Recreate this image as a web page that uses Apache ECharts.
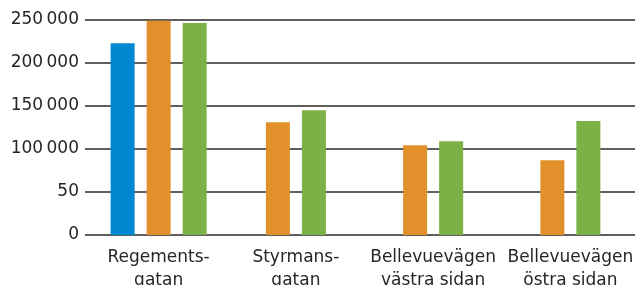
<!DOCTYPE html>
<html>
<head>
<meta charset="utf-8">
<script src="https://cdn.jsdelivr.net/npm/echarts@6/dist/echarts.min.js"></script>
<style>
  html, body { margin: 0; padding: 0; background: #fff; }
  #chart { width: 635px; height: 285px; }
</style>
</head>
<body>
<div id="chart"></div>
<script>
const categories = ['Regements-\ngatan', 'Styrmans-\ngatan', 'Bellevuevägen\nvästra sidan', 'Bellevuevägen\nöstra sidan']
const blueValues = [223000, null, null, null]
const orangeValues = [249000, 131000, 104500, 87000]
const greenValues = [246500, 145000, 109000, 132500]
const yTickLabels = ['0', '50', '100\u2009000', '150\u2009000', '200\u2009000', '250\u2009000']

const colors = { blue: '#0089d1', orange: '#e2902b', green: '#7bb146' }
const textColor = '#262626'
const fontFamily = 'DejaVu Sans'

// categories that have a blue bar get a 3-bar group, the rest a 2-bar group (both centered)
const hasBlue = blueValues.map(v => v != null)
const mask = (values, keep) => values.map((v, i) => (keep(i) && v != null ? v : '-'))

const barBase = { type: 'bar', barWidth: 24, barGap: '50%', yAxisIndex: 1, silent: true }
const barStyle = color => ({ color, borderWidth: 0, borderRadius: 0 })

const chart = echarts.init(document.getElementById('chart'))

const option = {
  animation: false,
  grid: [
    { left: 85, right: 0, top: 20, bottom: 50, containLabel: false, outerBoundsMode: 'none' },
    { left: 90, right: -4, top: 20, bottom: 50, containLabel: false, outerBoundsMode: 'none' }
  ],
  xAxis: [
    { gridIndex: 0, type: 'category', data: categories, show: false },
    {
      gridIndex: 1, type: 'category', data: categories,
      axisLine: { show: false }, axisTick: { show: false },
      axisLabel: { color: textColor, fontFamily, fontSize: 17, lineHeight: 23, margin: 11, interval: 0 }
    },
    { gridIndex: 1, type: 'category', data: categories, show: false }
  ],
  yAxis: [
    {
      gridIndex: 0, type: 'value', min: 0, max: 250000, interval: 50000,
      axisLine: { show: false }, axisTick: { show: false },
      splitLine: { lineStyle: { color: '#2a2a2a', width: 1.5 } },
      axisLabel: {
        color: textColor, fontFamily, fontSize: 17, margin: 6,
        formatter: v => yTickLabels[Math.round(v / 50000)]
      }
    },
    { gridIndex: 1, type: 'value', min: 0, max: 250000, interval: 50000, show: false }
  ],
  series: [
    { ...barBase, xAxisIndex: 1, data: mask(blueValues, i => hasBlue[i]), itemStyle: barStyle(colors.blue) },
    { ...barBase, xAxisIndex: 1, data: mask(orangeValues, i => hasBlue[i]), itemStyle: barStyle(colors.orange) },
    { ...barBase, xAxisIndex: 1, data: mask(greenValues, i => hasBlue[i]), itemStyle: barStyle(colors.green) },
    { ...barBase, xAxisIndex: 2, data: mask(orangeValues, i => !hasBlue[i]), itemStyle: barStyle(colors.orange) },
    { ...barBase, xAxisIndex: 2, data: mask(greenValues, i => !hasBlue[i]), itemStyle: barStyle(colors.green) }
  ]
}

chart.setOption(option)
</script>
</body>
</html>
